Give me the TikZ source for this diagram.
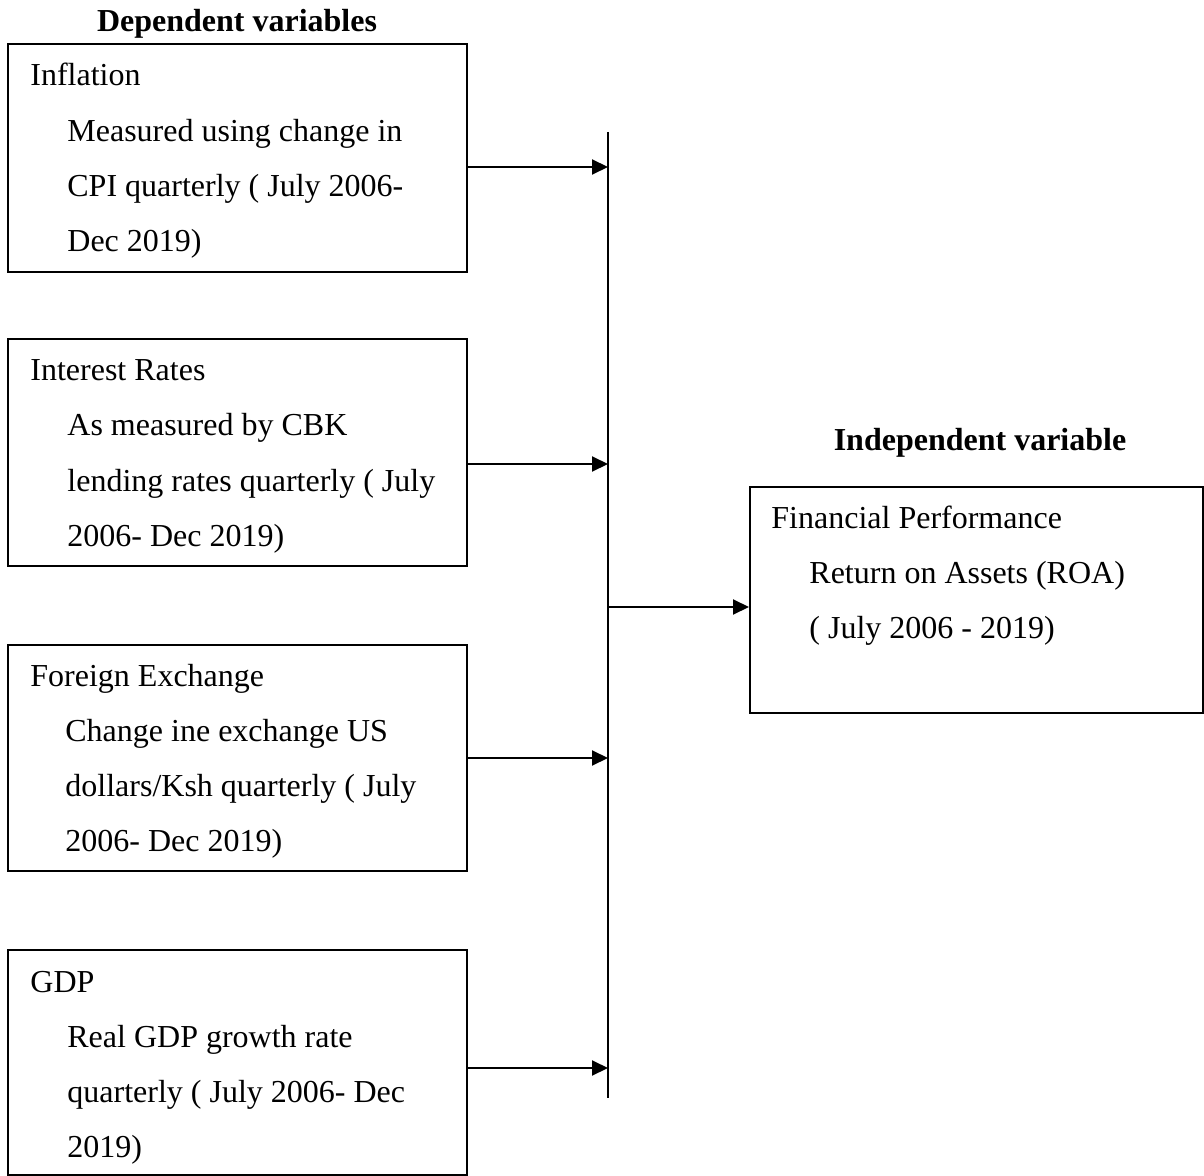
\documentclass[tikz,border=0pt]{standalone}
\usepackage{fontspec}
\setmainfont{Liberation Serif}
\usetikzlibrary{arrows.meta}
\begin{document}
\begin{tikzpicture}[x=0.5pt,y=-0.5pt,
  box/.style={draw,line width=1pt,inner sep=0pt},
  txt/.style={anchor=base west,inner sep=0pt,font=\fontsize{16}{19}\selectfont},
  ttl/.style={anchor=base,inner sep=0pt,font=\fontsize{16}{19}\selectfont\bfseries},
  arr/.style={line width=1pt,-{Triangle[length=8pt,width=7.5pt]}},
  ln/.style={line width=1pt}]
\useasboundingbox (0,0) rectangle (1204,1176);
% titles
\node[ttl] (t1) at (237,32) {Dependent variables};
\node[ttl] (t2) at (980,451) {Independent variable};
% boxes
\node[box,minimum width=229.5pt,minimum height=114pt] (b1) at (237.5,158) {};
\node[box,minimum width=229.5pt,minimum height=113.5pt] (b2) at (237.5,452.5) {};
\node[box,minimum width=229.5pt,minimum height=113pt] (b3) at (237.5,758) {};
\node[box,minimum width=229.5pt,minimum height=112.5pt] (b4) at (237.5,1062.5) {};
\node[box,minimum width=226.5pt,minimum height=113pt] (r) at (976.5,600) {};
% box 1 text
\node[txt] (a1) at (30,86) {Inflation};
\node[txt] (a2) at (67,142) {Measured using change in};
\node[txt] (a3) at (67,197) {CPI quarterly ( July 2006-};
\node[txt] (a4) at (67,252) {Dec 2019)};
% box 2 text
\node[txt] (c1) at (30,380) {Interest Rates};
\node[txt] (c2) at (67,436) {As measured by CBK};
\node[txt] (c3) at (67,491) {lending rates quarterly ( July};
\node[txt] (c4) at (67,546) {2006- Dec 2019)};
% box 3 text
\node[txt] (d1) at (30,686) {Foreign Exchange};
\node[txt] (d2) at (65,741) {Change ine exchange US};
\node[txt] (d3) at (65,796) {dollars/Ksh quarterly ( July};
\node[txt] (d4) at (65,851) {2006- Dec 2019)};
% box 4 text
\node[txt] (e1) at (30,992) {GDP};
\node[txt] (e2) at (67,1047) {Real GDP growth rate};
\node[txt] (e3) at (67,1102) {quarterly ( July 2006- Dec};
\node[txt] (e4) at (67,1157) {2019)};
% right box text
\node[txt] (f1) at (771,528) {Financial Performance};
\node[txt] (f2) at (809,583) {Return on Assets (ROA)};
\node[txt] (f3) at (809,638) {( July 2006 - 2019)};
% connectors
\coordinate (vt) at (608,132);
\coordinate (vb) at (608,1098);
\draw[ln] (vt) -- (vb);
\coordinate (p1) at (608,167);
\coordinate (p2) at (608,464);
\coordinate (p3) at (608,758);
\coordinate (p4) at (608,1068);
\coordinate (pm) at (608,607);
\draw[arr] (b1.east |- p1) -- (p1);
\draw[arr] (b2.east |- p2) -- (p2);
\draw[arr] (b3.east |- p3) -- (p3);
\draw[arr] (b4.east |- p4) -- (p4);
\draw[arr] (pm) -- (r.west |- pm);
\end{tikzpicture}
\end{document}
